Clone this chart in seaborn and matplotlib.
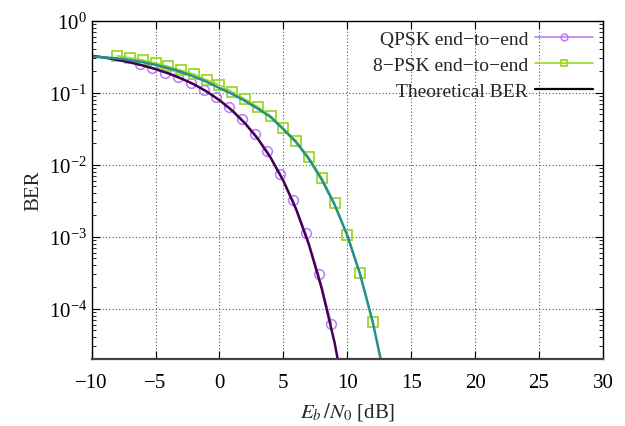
import numpy as np
import pandas as pd
import matplotlib
matplotlib.use('Agg')
import matplotlib.pyplot as plt
from matplotlib.lines import Line2D
import matplotlib.ticker as mticker
import seaborn as sns

# QPSK simulated points
qpsk_ebn0 = [-6.25, -5.25, -4.25, -3.25, -2.25, -1.25, -0.25, 0.75, 1.75,
             2.75, 3.75, 4.75, 5.75, 6.75, 7.75, 8.75]
qpsk_ber = [0.25, 0.218, 0.19, 0.163, 0.138, 0.11, 0.086, 0.063, 0.043,
            0.027, 0.0153, 0.0075, 0.0032, 0.00112, 3.0e-4, 6.2e-5]

# 8-PSK simulated points
psk8_ebn0 = [-8, -7, -6, -5, -4, -3, -2, -1, 0, 1, 2, 3, 4, 5, 6, 7, 8,
             9, 10, 11, 12]
psk8_ber = [0.326, 0.306, 0.284, 0.258, 0.232, 0.204, 0.181, 0.151, 0.128,
            0.103, 0.0815, 0.0637, 0.0477, 0.0322, 0.0214, 0.0126, 0.0066,
            0.0029, 0.00106, 3.1e-4, 6.6e-5]

theo_ebn0 = [-10, -9, -8, -7, -6, -5, -4, -3, -2, -1, 0, 1, 2, 3, 4, 5, 6,
             7, 8, 9, 10, 11, 12, 13]
theo_qpsk = [0.327, 0.308, 0.287, 0.264, 0.239, 0.213, 0.186, 0.158, 0.131,
             0.104, 0.0786, 0.0563, 0.0375, 0.0229, 0.0125, 0.00595, 0.00239,
             7.7e-4, 1.9e-4, 3.4e-5, 3.9e-6, 2.6e-7, 9e-9, 1e-10]
theo_8psk = [0.318, 0.31, 0.30, 0.285, 0.266, 0.244, 0.22, 0.195, 0.168,
             0.142, 0.116, 0.096, 0.077, 0.06, 0.046, 0.031, 0.0205, 0.012,
             0.0062, 0.0028, 0.00104, 3.0e-4, 6.4e-5, 9.4e-6]

sns.set_style('ticks')
plt.rcParams['font.family'] = ['Liberation Serif', 'DejaVu Serif']
plt.rcParams['mathtext.fontset'] = 'stix'
plt.rcParams['xtick.direction'] = 'in'
plt.rcParams['ytick.direction'] = 'in'

fig = plt.figure(figsize=(6.25, 4.27), dpi=100)
ax = fig.add_axes([0.1467, 0.157, 0.818, 0.792])

sns.lineplot(x=qpsk_ebn0, y=qpsk_ber, ax=ax, color='#b77ef5', linewidth=1.2,
             marker='o', markersize=7, markerfacecolor='none',
             markeredgecolor='#b77ef5', markeredgewidth=1.1,
             label='QPSK end\u2212to\u2212end')
sns.lineplot(x=psk8_ebn0, y=psk8_ber, ax=ax, color='#9cd72c', linewidth=1.2,
             marker='s', markersize=7, markerfacecolor='none',
             markeredgecolor='#9cd72c', markeredgewidth=1.3,
             label='8\u2212PSK end\u2212to\u2212end')
sns.lineplot(x=theo_ebn0, y=theo_qpsk, ax=ax, color='#440154', linewidth=1.8,
             legend=False)
sns.lineplot(x=theo_ebn0, y=theo_8psk, ax=ax, color='#21918c', linewidth=1.8,
             legend=False)

ax.set_yscale('log')
ax.set_xlim(-10, 30)
ax.set_ylim(2e-5, 1)
ax.set_xticks(np.arange(-10, 31, 5))
ax.yaxis.set_major_locator(mticker.LogLocator(base=10, numticks=10))
ax.yaxis.set_minor_locator(mticker.LogLocator(base=10, subs=np.arange(2, 10), numticks=10))
ax.yaxis.set_minor_formatter(mticker.NullFormatter())
ax.tick_params(which='both', top=True, right=True, labelsize=15, colors='black')
ax.tick_params(which='major', length=6, width=0.8)
ax.tick_params(which='minor', length=3, width=0.6)
ax.tick_params(axis='x', pad=10)

ax.grid(True, which='major', linestyle=(0, (1, 2)), color='#555555', linewidth=0.8)
for s in ax.spines.values():
    s.set_linewidth(1.0)
    s.set_color('black')
ax.spines['bottom'].set_color('#444444')
ax.spines['bottom'].set_linewidth(1.6)

ax.set_xlabel('$E_b\\,/N_0$ [dB]', fontsize=15, labelpad=6)
ax.set_ylabel('BER', fontsize=15)

handles, labels = ax.get_legend_handles_labels()
handles.append(Line2D([], [], color='black', linewidth=1.6))
labels.append('Theoretical BER')
ax.legend(handles, labels, loc='upper right', frameon=False, markerfirst=False,
          fontsize=14, handlelength=3.0, borderaxespad=0.1, labelspacing=0.42,
          handletextpad=0.35, markerscale=0.7)

plt.savefig('out.png', dpi=100)
plt.close()
